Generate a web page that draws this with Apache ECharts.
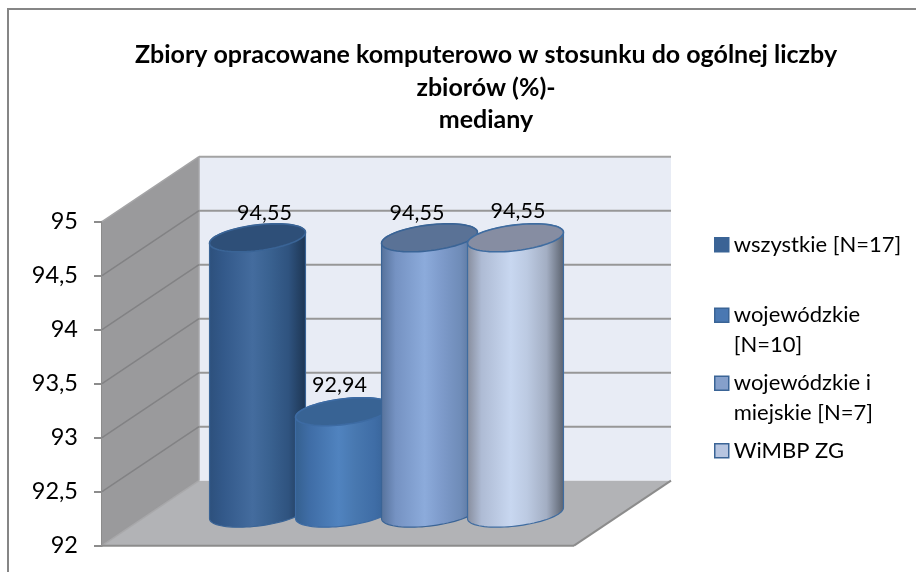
<!DOCTYPE html>
<html>
<head>
<meta charset="utf-8">
<style>html,body{margin:0;padding:0;background:#fff}#c{width:916px;height:572px}</style>
<script src="https://cdn.jsdelivr.net/npm/echarts@6/dist/echarts.min.js"></script>
</head>
<body>
<div id="c"></div>
<script>
const titleText = 'Zbiory opracowane komputerowo w stosunku do ogólnej liczby\nzbiorów (%)-\nmediany';
const categories = ['mediana'];
const seriesNames = ['wszystkie [N=17]', 'wojewódzkie\n[N=10]', 'wojewódzkie i\nmiejskie [N=7]', 'WiMBP ZG'];
const seriesValues = [94.55, 92.94, 94.55, 94.55];
const yTicks = [92, 92.5, 93, 93.5, 94, 94.5, 95];

const FONT = 'Lato';
const DX = 97, DY = -65;            // depth of the 3D box
const STEP = 0.1822;                // fraction of category band
const RX = 48.3, RY = 12.8, ROT = -7 * Math.PI / 180;
const palette = [
  {stops:['#2d507c','#33598a','#446c9e','#3a6291','#2f537f','#1d3552'], top:'#2e4f78', edge:'#3a6496', legend:'#3b6395'},
  {stops:['#35608f','#3f6da6','#5083bf','#4878b0','#3f6da6','#345f92'], top:'#386394', edge:'#3d6ba3', legend:'#4a78b2'},
  {stops:['#55719a','#7592c2','#8cabdb','#7e9bcb','#6f8cb8','#4f6a92'], top:'#5a7296', edge:'#3a6496', legend:'#86a0cb'},
  {stops:['#868c9c','#aebbd4','#c8d7f0','#bccae2','#a3aec3','#5a616d'], top:'#868da2', edge:'#3f6ca0', legend:'#b7c5e0'}
];
const labelOffsets = [[7,-25],[-4,-27],[-12.5,-25],[2.5,-27]];
const legendTops = [230, 271, 339, 436];

function ellipse(cx, cy, from, to, n) {
  const pts = [], c = Math.cos(ROT), s = Math.sin(ROT);
  for (let k = 0; k <= n; k++) {
    const t = from + (to - from) * k / n;
    const ex = RX * Math.cos(t), ey = RY * Math.sin(t);
    pts.push([cx + ex * c - ey * s, cy + ex * s + ey * c]);
  }
  return pts;
}

function renderCylinder(i) {
  return function (params, api) {
    const xv = api.value(0), val = api.value(1);
    const band = api.size([1, 0])[0];
    const top = api.coord([xv, val]);
    const base = api.coord([xv, yTicks[0]]);
    const cx = top[0] + (i - 1.5) * STEP * band + DX / 2;
    const yt = top[1] + DY / 2, yb = base[1] + DY / 2;
    const t0 = Math.atan2(-RY * Math.sin(ROT), RX * Math.cos(ROT));
    const lower = ellipse(cx, yb, t0, t0 + Math.PI, 40);
    const upper = ellipse(cx, yt, t0 + Math.PI, t0 + 2 * Math.PI, 40);
    const p = palette[i];
    const grad = new echarts.graphic.LinearGradient(0, 0, 1, 0,
      p.stops.map((color, k) => ({offset: [0, .15, .45, .62, .82, 1][k], color})));
    return {
      type: 'group',
      children: [
        {type:'polygon', shape:{points: lower.concat(upper)}, style:{fill:grad, stroke:p.edge, lineWidth:1.2}},
        {type:'polygon', shape:{points: ellipse(cx, yt, 0, 2*Math.PI, 72)}, style:{fill:p.top, stroke:p.edge, lineWidth:1.6}},
        {type:'text', x: cx + labelOffsets[i][0], y: yt + labelOffsets[i][1], z2: 10,
         style:{text:String(val).replace('.', ','), fill:'#000', font:'21.5px '+FONT, textAlign:'center', textVerticalAlign:'middle'}}
      ]
    };
  };
}

function renderWalls(params, api) {
  const lo = api.coord([0, yTicks[0]]), hi = api.coord([0, yTicks[yTicks.length-1]]);
  const cs = params.coordSys, L = cs.x, R = cs.x + cs.width;
  const yL = lo[1], yH = hi[1];
  return {type:'group', children:[
    {type:'polygon', shape:{points:[[L+DX,yH+DY],[R+DX,yH+DY],[R+DX,yL+DY],[L+DX,yL+DY]]}, style:{fill:'#e8ecf5'}},
    {type:'polygon', shape:{points:[[L,yH],[L+DX,yH+DY],[L+DX,yL+DY],[L,yL]]}, style:{fill:'#9a9a9c'}},
    {type:'polygon', shape:{points:[[L,yL],[R,yL],[R+DX,yL+DY],[L+DX,yL+DY]]}, style:{fill:'#b2b3b6'}},
    {type:'line', shape:{x1:L+DX,y1:yH+DY,x2:L+DX,y2:yL+DY}, style:{stroke:'#a6a6a8',lineWidth:1.5}},
    {type:'line', shape:{x1:L,y1:yL,x2:L+DX,y2:yL+DY}, style:{stroke:'#a8a8aa',lineWidth:1.5}},
    {type:'line', shape:{x1:R,y1:yL,x2:R+DX,y2:yL+DY}, style:{stroke:'#8c8c8c',lineWidth:2}},
    {type:'line', shape:{x1:L,y1:yL,x2:R,y2:yL}, style:{stroke:'#8c8c8c',lineWidth:2}}
  ]};
}

function renderGrid(params, api) {
  const v = api.value(0);
  if (v === yTicks[0]) return {type:'group', children:[]};
  const cs = params.coordSys, L = cs.x, R = cs.x + cs.width;
  const y = api.coord([0, v])[1];
  const isTop = v === yTicks[yTicks.length-1];
  return {type:'group', children:[
    {type:'line', shape:{x1:L,y1:y,x2:L+DX,y2:y+DY}, style:{stroke:isTop?'#a4a4a6':'#828284',lineWidth:1.5}},
    {type:'line', shape:{x1:L+DX,y1:y+DY,x2:R+DX,y2:y+DY}, style:{stroke:isTop?'#a3a3a3':'#979797',lineWidth:2}}
  ]};
}

const chart = echarts.init(document.getElementById('c'), null, {renderer:'canvas'});
const series = [
  {type:'custom', name:'walls', silent:true, data:[[0]], renderItem:renderWalls, encode:{x:0}, z:1},
  {type:'custom', name:'gridlines', silent:true, data:yTicks.map(v=>[v]), renderItem:renderGrid, encode:{y:0}, z:2}
];
seriesNames.forEach((name, i) => {
  series.push({
    type:'custom', name, z:3+i, renderItem:renderCylinder(i),
    data:[[0, seriesValues[i]]], encode:{x:0, y:1},
    itemStyle:{color:palette[i].legend}
  });
});

chart.setOption({
  animation:false,
  backgroundColor:'#fff',
  textStyle:{fontFamily:FONT},
  title:{
    text:titleText, left:481, top:34, textAlign:'center',
    textStyle:{fontFamily:FONT, fontSize:25, fontWeight:'bold', color:'#000', lineHeight:32.5}
  },
  legend: seriesNames.map((name, i) => ({
    data:[name], left:714, top:legendTops[i], orient:'vertical', selectedMode:false, padding:0,
    icon:'rect', itemWidth:14, itemHeight:14,
    itemStyle:{color:palette[i].legend, borderColor:'#3a6496', borderWidth:1.5},
    formatter:n => n.indexOf('\n')>=0 ? '\n'+n : n,
    textStyle:{fontFamily:FONT, fontSize:22, color:'#000', lineHeight:29.5}
  })),
  grid:{left:102, right:342, top:221.7, bottom:26.3},
  xAxis:{type:'category', data:categories, show:false},
  yAxis:{
    type:'value', min:92, max:95, interval:0.5,
    axisLine:{show:true, lineStyle:{color:'#8c8c8c', width:2}},
    axisTick:{show:true, length:8, lineStyle:{color:'#8c8c8c', width:2}},
    splitLine:{show:false},
    axisLabel:{margin:24, fontFamily:FONT, fontSize:23.5, color:'#000', formatter:v=>String(v).replace('.',',')}
  },
  graphic:[
    {type:'polyline', silent:true, z:0, shape:{points:[[8,572],[8,9],[916,9]]}, style:{fill:'none', stroke:'#868686', lineWidth:2}}
  ],
  series
});
</script>
</body>
</html>
